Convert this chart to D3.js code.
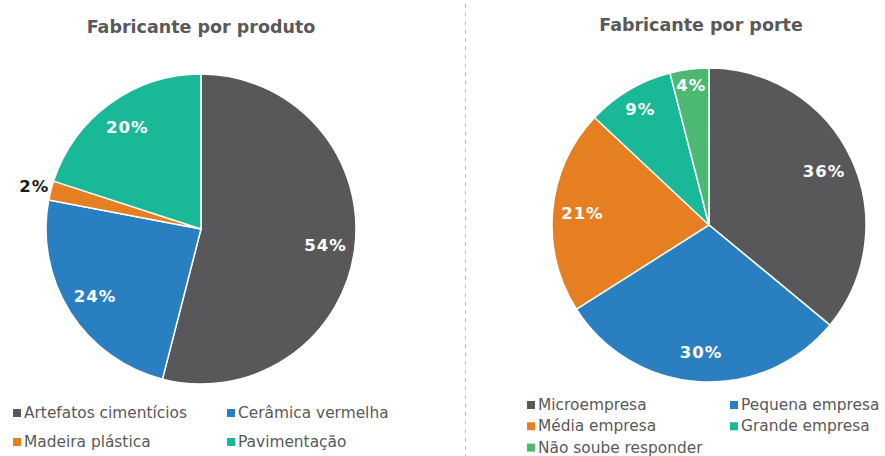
<!DOCTYPE html>
<html>
<head>
<meta charset="utf-8">
<script src="https://d3js.org/d3.v7.min.js"></script>
<style>
  body { margin: 0; background: #fff; }
  text { font-family: "DejaVu Sans", Verdana, sans-serif; }
</style>
</head>
<body>
<script>
// Fabricante por produto
const produtoLabels = ["Artefatos cimentícios", "Cerâmica vermelha", "Madeira plástica", "Pavimentação"];
const produtoValues = [54, 24, 2, 20];
const produtoColors = ["#58585a", "#2a7fc0", "#e67e22", "#19b997"];

// Fabricante por porte
const porteLabels = ["Microempresa", "Pequena empresa", "Média empresa", "Grande empresa", "Não soube responder"];
const porteValues = [36, 30, 21, 9, 4];
const porteColors = ["#58585a", "#2a7fc0", "#e67e22", "#19b997", "#4cb874"];

const width = 885, height = 456;

const svg = d3.select("body").append("svg")
  .attr("width", width)
  .attr("height", height);

// dashed divider
svg.append("line")
  .attr("x1", 465.5).attr("x2", 465.5)
  .attr("y1", 4).attr("y2", height)
  .attr("stroke", "#bdbdbd")
  .attr("stroke-width", 1)
  .attr("stroke-dasharray", "4,4.5");

function drawPie(opts) {
  const g = svg.append("g");
  const data = opts.values.map((v, i) => ({ label: opts.labels[i], value: v, color: opts.colors[i] }));

  g.append("text")
    .attr("x", opts.titleX)
    .attr("y", opts.titleY)
    .attr("text-anchor", "middle")
    .attr("font-size", 17.5)
    .attr("font-weight", "bold")
    .attr("fill", "#595959")
    .text(opts.title);

  const pie = d3.pie().sort(null).value(d => d.value);
  const arc = d3.arc().innerRadius(0).outerRadius(opts.r);
  const arcs = pie(data);

  const pg = g.append("g").attr("transform", `translate(${opts.cx},${opts.cy})`);

  pg.selectAll("path")
    .data(arcs)
    .enter()
    .append("path")
    .attr("d", arc)
    .attr("fill", d => d.data.color)
    .attr("stroke", "#fff")
    .attr("stroke-width", 1.5);

  // labels: small slices pushed outward, tiny ones outside in black
  pg.selectAll("text.lbl")
    .data(arcs)
    .enter()
    .append("text")
    .attr("class", "lbl")
    .attr("transform", d => {
      const v = d.data.value;
      const f = v < 3 ? 1.11 : v < 5 ? 0.9 : v < 10 ? 0.86 : 0.81;
      const a = (d.startAngle + d.endAngle) / 2;
      return `translate(${Math.sin(a) * opts.r * f},${-Math.cos(a) * opts.r * f})`;
    })
    .attr("dy", "0.36em")
    .attr("text-anchor", "middle")
    .attr("font-size", 16.5)
    .attr("font-weight", "bold")
    .attr("letter-spacing", 1)
    .attr("fill", d => d.data.value < 3 ? "#1a1a1a" : "#fff")
    .text(d => d.data.value + "%");

  // legend
  const lg = g.selectAll("g.leg")
    .data(data)
    .enter()
    .append("g")
    .attr("class", "leg")
    .attr("transform", (d, i) => `translate(${opts.legX[i % 2]},${opts.legY + Math.floor(i / 2) * opts.legStep})`);

  lg.append("rect")
    .attr("x", 0).attr("y", -9)
    .attr("width", 8).attr("height", 8)
    .attr("fill", d => d.color);

  lg.append("text")
    .attr("x", 11)
    .attr("y", 0)
    .attr("font-size", 15.4)
    .attr("fill", "#595959")
    .text(d => d.label);
}

drawPie({
  title: "Fabricante por produto", titleX: 201, titleY: 33,
  labels: produtoLabels, values: produtoValues, colors: produtoColors,
  cx: 201, cy: 229, r: 155,
  legX: [13, 227], legY: 418, legStep: 29
});

drawPie({
  title: "Fabricante por porte", titleX: 701, titleY: 31,
  labels: porteLabels, values: porteValues, colors: porteColors,
  cx: 709, cy: 225, r: 157,
  legX: [527, 730], legY: 410, legStep: 21.3
});
</script>
</body>
</html>
